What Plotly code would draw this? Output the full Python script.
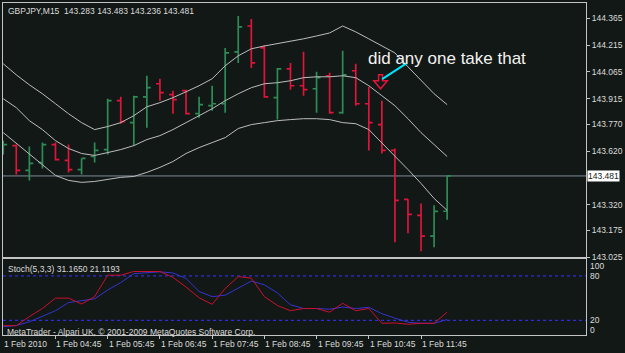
import plotly.graph_objects as go

# ---------------- data ----------------
bar_index = list(range(35))  # M15 bars from 03:45 to 12:15, 1 Feb 2010

opens = [143.624, 143.651, 143.512, 143.556, 143.657, 143.568, 143.517, 143.590, 143.629, 143.903,
         143.780, 143.925, 143.998, 143.937, 143.959, 143.830, 143.875, 143.886, 144.177, 144.322,
         144.199, 143.920, 144.082, 143.987, 143.970, 144.043, 143.836, 144.071, 143.886, 143.769,
         143.624, 143.350, 143.260, 143.143, 143.283]
highs = [143.679, 143.657, 143.646, 143.668, 143.668, 143.657, 143.579, 143.668, 143.914, 143.925,
         143.931, 144.043, 144.026, 143.959, 143.965, 143.925, 143.987, 144.199, 144.378, 144.361,
         144.216, 144.087, 144.115, 144.177, 144.065, 144.060, 144.183, 144.110, 143.981, 143.903,
         143.635, 143.350, 143.327, 143.316, 143.483]
lows = [143.601, 143.489, 143.456, 143.523, 143.568, 143.501, 143.489, 143.556, 143.601, 143.774,
        143.651, 143.752, 143.903, 143.830, 143.825, 143.808, 143.847, 143.836, 144.115, 144.087,
        143.920, 143.797, 143.965, 143.931, 143.836, 143.830, 143.830, 143.875, 143.624, 143.607,
        143.109, 143.160, 143.059, 143.081, 143.236]
closes = [143.657, 143.512, 143.551, 143.657, 143.573, 143.517, 143.579, 143.624, 143.903, 143.786,
          143.925, 143.976, 143.948, 143.909, 143.830, 143.881, 143.886, 144.171, 144.317, 144.115,
          143.925, 144.082, 143.987, 143.965, 144.032, 143.836, 144.048, 143.886, 143.780, 143.624,
          143.344, 143.266, 143.143, 143.282, 143.481]

band_upper = [144.110, 144.048, 143.992, 143.942, 143.886, 143.830, 143.780, 143.741, 143.758, 143.780,
              143.819, 143.869, 143.892, 143.920, 143.953, 143.987, 144.026, 144.099, 144.155, 144.194,
              144.210, 144.222, 144.238, 144.250, 144.266, 144.283, 144.322, 144.289, 144.250, 144.210,
              144.171, 144.093, 144.015, 143.942, 143.881]
band_middle = [143.914, 143.864, 143.791, 143.741, 143.679, 143.635, 143.607, 143.596, 143.612, 143.629,
               143.651, 143.685, 143.707, 143.741, 143.780, 143.819, 143.858, 143.903, 143.942, 143.976,
               143.998, 144.004, 144.015, 144.032, 144.037, 144.037, 144.043, 144.032, 143.987, 143.931,
               143.875, 143.802, 143.724, 143.657, 143.590]
band_lower = [143.724, 143.663, 143.601, 143.545, 143.484, 143.456, 143.445, 143.450, 143.461, 143.473,
              143.478, 143.501, 143.529, 143.562, 143.607, 143.640, 143.668, 143.696, 143.747, 143.769,
              143.780, 143.791, 143.797, 143.802, 143.802, 143.797, 143.780, 143.774, 143.741, 143.668,
              143.590, 143.517, 143.439, 143.355, 143.288]

stoch_main = [12.8, 12.8, 25, 36, 50, 50, 42, 52, 81, 81,
              86, 85.5, 86, 78, 65, 50.5, 41.6, 63, 79, 77,
              52, 40, 33, 36, 36, 31, 43, 33, 36, 16,
              16.5, 14.7, 16, 16, 31.165]
stoch_signal = [11.4, 13, 18, 25, 33, 44, 47, 49, 61, 71,
                83, 84.7, 85.5, 84, 76.6, 59, 52, 54, 63, 73,
                68, 57, 41, 36, 36, 35, 38, 36, 37.6, 29,
                23, 17.5, 16, 16, 21.12]
stoch_levels = [80, 20]

time_tick_idx = [0, 4, 8, 12, 16, 20, 24, 28, 32]
time_tick_labels = ["1 Feb 2010", "1 Feb 04:45", "1 Feb 05:45", "1 Feb 06:45", "1 Feb 07:45",
                    "1 Feb 08:45", "1 Feb 09:45", "1 Feb 10:45", "1 Feb 11:45"]

price_ticks = [144.365, 144.215, 144.065, 143.915, 143.770, 143.620, 143.320, 143.175, 143.025]
price_tick_labels = ["144.365", "144.215", "144.065", "143.915", "143.770", "143.620",
                     "143.320", "143.175", "143.025"]
current_price = 143.481

stoch_axis_labels = ["100", "80", "20", "0"]
stoch_axis_label_pos = [93, 80, 20, 6.6]

title_text = "GBPJPY,M15\u00a0\u00a0143.283 143.483 143.236 143.481"
stoch_text = "Stoch(5,3,3) 31.1650 21.1193"
copyright_text = "MetaTrader - Alpari UK, \u00a9 2001-2009 MetaQuotes Software Corp."
comment_text = "did any one take that"

# ---------------- styles ----------------
BG = "#121815"
FRAME = "#c4c4c4"
TXT = "#dcdcdc"
GREEN = "#2e8b57"
RED = "#e0143c"
BAND = "#bdbdbd"
FONT = "Liberation Sans, Arial, sans-serif"

X_RANGE = [-0.019, 44.636]

fig = go.Figure()

fig.add_trace(go.Ohlc(
    x=bar_index, open=opens, high=highs, low=lows, close=closes,
    increasing=dict(line=dict(color=GREEN, width=1.7)),
    decreasing=dict(line=dict(color=RED, width=1.7)),
    tickwidth=0.3, hoverinfo="skip", xaxis="x", yaxis="y", showlegend=False))

for band in (band_upper, band_middle, band_lower):
    fig.add_trace(go.Scatter(x=bar_index, y=band, mode="lines",
                             line=dict(color=BAND, width=1), hoverinfo="skip",
                             xaxis="x", yaxis="y", showlegend=False))

fig.add_trace(go.Scatter(x=bar_index, y=stoch_signal, mode="lines",
                         line=dict(color="#3434d0", width=1), hoverinfo="skip",
                         xaxis="x2", yaxis="y2", showlegend=False))
fig.add_trace(go.Scatter(x=bar_index, y=stoch_main, mode="lines",
                         line=dict(color="#cc1030", width=1), hoverinfo="skip",
                         xaxis="x2", yaxis="y2", showlegend=False))

shapes = []
# current price line
shapes.append(dict(type="line", xref="x domain", x0=0, x1=1, yref="y",
                   y0=current_price, y1=current_price,
                   line=dict(color="#7d8b99", width=1), layer="below"))
# stoch level lines
for lv in stoch_levels:
    shapes.append(dict(type="line", xref="x2 domain", x0=0, x1=1, yref="y2", y0=lv, y1=lv,
                       line=dict(color="#2c2cd8", width=1.3, dash="dot"), layer="below"))

# hand drawn arrow object (down arrow) and trend line
ax, a_top, a_neck, a_tip = 28.9, 144.048, 144.015, 143.970
sw, hw = 0.15, 0.52
arrow_path = (f"M {ax-sw},{a_top} L {ax+sw},{a_top} L {ax+sw},{a_neck} L {ax+hw},{a_neck} "
              f"L {ax},{a_tip} L {ax-hw},{a_neck} L {ax-sw},{a_neck} Z")
shapes.append(dict(type="path", xref="x", yref="y", path=arrow_path,
                   line=dict(color=RED, width=1.5)))
shapes.append(dict(type="line", xref="x", yref="y", x0=29.02, y0=144.024, x1=30.91, y1=144.114,
                   line=dict(color="#00e5ff", width=2)))

annotations = []
annotations.append(dict(xref="paper", yref="paper", x=0, y=1, xanchor="left", yanchor="top",
                        xshift=3, yshift=-1, text=title_text, showarrow=False,
                        font=dict(family=FONT, size=8.5, color=TXT)))
annotations.append(dict(xref="paper", yref="y2 domain", x=0, y=1, xanchor="left", yanchor="top",
                        xshift=3, yshift=-3, text=stoch_text, showarrow=False,
                        font=dict(family=FONT, size=8.5, color=TXT)))
annotations.append(dict(xref="paper", yref="y2 domain", x=0, y=0, xanchor="left", yanchor="middle",
                        xshift=2, yshift=3, text=copyright_text, showarrow=False,
                        font=dict(family=FONT, size=8.5, color=TXT)))
for xi, lab in zip(time_tick_idx, time_tick_labels):
    annotations.append(dict(xref="x2", yref="paper", x=xi, y=0, xanchor="left", yanchor="middle",
                            xshift=-1, yshift=-9, text=lab, showarrow=False,
                            font=dict(family=FONT, size=8.5, color=TXT)))
for lab, pos in zip(stoch_axis_labels, stoch_axis_label_pos):
    annotations.append(dict(xref="paper", yref="y2", x=1, y=pos, xanchor="left", yanchor="middle",
                            xshift=2, text=lab, showarrow=False,
                            font=dict(family=FONT, size=8.5, color=TXT)))
annotations.append(dict(xref="paper", yref="y", x=1, y=current_price, xanchor="left",
                        yanchor="middle", xshift=1, text=f"{current_price:.3f}", showarrow=False,
                        bgcolor="#ffffff", borderpad=0,
                        font=dict(family=FONT, size=8.5, color="#202020")))
annotations.append(dict(xref="x", yref="y", x=27.8, y=144.138, xanchor="left", yanchor="middle",
                        text=comment_text, showarrow=False,
                        font=dict(family=FONT, size=17, color="#f2f2f2")))

axis_common = dict(showgrid=False, zeroline=False, showline=True, mirror=True,
                   linecolor=FRAME, linewidth=1)

fig.update_layout(
    width=625, height=353,
    margin=dict(l=2, r=34, t=2, b=18),
    paper_bgcolor=BG, plot_bgcolor=BG,
    showlegend=False,
    xaxis=dict(domain=[0, 1], range=X_RANGE, anchor="y", showticklabels=False, ticks="",
               rangeslider=dict(visible=False), **axis_common),
    yaxis=dict(domain=[0.2342, 1], range=[143.025, 144.451], anchor="x", side="right",
               tickvals=price_ticks, ticktext=price_tick_labels, ticks="outside", ticklen=3,
               tickcolor=FRAME, tickfont=dict(family=FONT, size=8.5, color=TXT), **axis_common),
    xaxis2=dict(domain=[0, 1], range=X_RANGE, anchor="y2", showticklabels=False,
                tickvals=time_tick_idx[1:], ticks="outside", ticklen=3, tickcolor=FRAME,
                rangeslider=dict(visible=False), **axis_common),
    yaxis2=dict(domain=[0, 0.2282], range=[0.2, 102.5], anchor="x2", side="right",
                showticklabels=False, ticks="", **axis_common),
    shapes=shapes,
    annotations=annotations,
)

fig.write_html("out.html")
